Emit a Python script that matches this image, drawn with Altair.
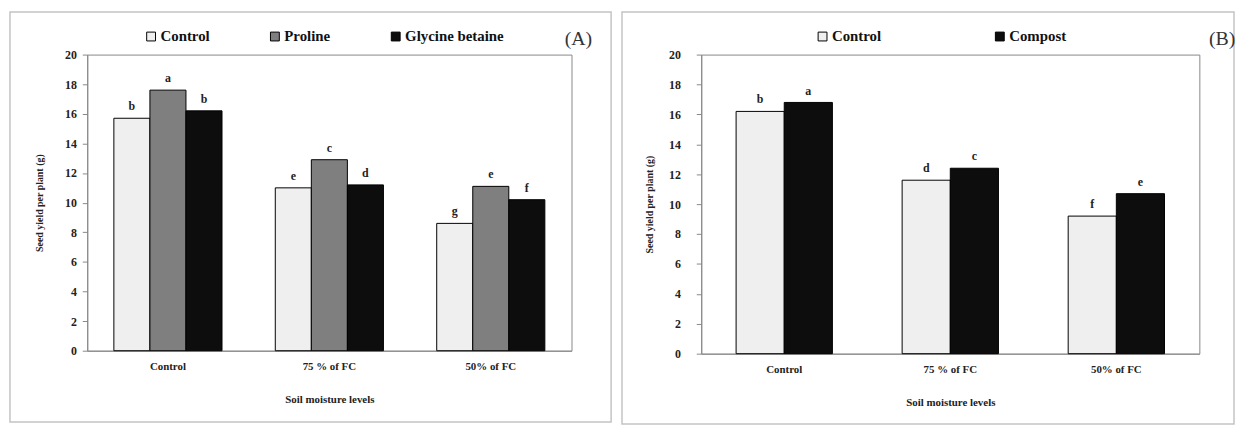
import altair as alt
import pandas as pd

SERIF = "Liberation Serif, Times New Roman, serif"

levels = ["Control", "75 % of FC", "50% of FC"]
y_ticks = list(range(0, 21, 2))

# Panel A
a_treatments = ["Control", "Proline", "Glycine betaine"]
a_colors = ["#efefef", "#7f7f7f", "#0d0d0d"]
a_control = [15.7, 11.0, 8.6]
a_proline = [17.6, 12.9, 11.1]
a_glycine = [16.2, 11.2, 10.2]
a_let_control = ["b", "e", "g"]
a_let_proline = ["a", "c", "e"]
a_let_glycine = ["b", "d", "f"]

# Panel B
b_treatments = ["Control", "Compost"]
b_colors = ["#efefef", "#0d0d0d"]
b_control = [16.2, 11.6, 9.2]
b_compost = [16.8, 12.4, 10.7]
b_let_control = ["b", "d", "f"]
b_let_compost = ["a", "c", "e"]


def make_df(treatments, values, letters):
    rows = []
    for t, vals, lets in zip(treatments, values, letters):
        for lv, v, l in zip(levels, vals, lets):
            rows.append({"level": lv, "treatment": t, "value": v, "letter": l})
    return pd.DataFrame(rows)


df_a = make_df(a_treatments, [a_control, a_proline, a_glycine],
               [a_let_control, a_let_proline, a_let_glycine])
df_b = make_df(b_treatments, [b_control, b_compost],
               [b_let_control, b_let_compost])


def panel(df, treatments, colors, w, h, pad_inner, legend_x, legend_y, col_pad,
          tag, tag_x, tag_y, frame, ylab_pad, ytitle_pad):
    x = alt.X("level:N", sort=levels,
              scale=alt.Scale(paddingInner=pad_inner, paddingOuter=pad_inner / 2),
              axis=alt.Axis(title="Soil moisture levels", labelAngle=0, ticks=False,
                            domainColor="#888888", labelFont=SERIF, labelFontSize=11,
                            labelFontWeight="bold", labelColor="#222", labelPadding=10,
                            titleFont=SERIF, titleFontSize=11, titleFontWeight="bold",
                            titleColor="#222", titlePadding=22))
    xo = alt.XOffset("treatment:N", sort=treatments,
                     scale=alt.Scale(paddingInner=0, paddingOuter=0))
    y = alt.Y("value:Q", scale=alt.Scale(domain=[0, 20], nice=False),
              axis=alt.Axis(values=y_ticks, title="Seed yield per plant (g)", grid=False,
                            domainColor="#888888", tickColor="#888888", tickSize=5,
                            labelFont=SERIF, labelFontSize=12, labelFontWeight="bold",
                            labelColor="#222", labelPadding=ylab_pad,
                            titleFont=SERIF, titleFontSize=10, titleFontWeight="bold",
                            titleColor="#222", titlePadding=ytitle_pad))
    fill = alt.Fill("treatment:N", sort=treatments,
                    scale=alt.Scale(domain=treatments, range=colors),
                    legend=alt.Legend(title=None, orient="none", legendX=legend_x,
                                      legendY=legend_y, direction="horizontal",
                                      columns=len(treatments), columnPadding=col_pad,
                                      symbolType="square", symbolSize=80,
                                      symbolStrokeColor="black", symbolStrokeWidth=1,
                                      labelFont=SERIF, labelFontSize=15,
                                      labelFontWeight="bold", labelColor="#111",
                                      labelOffset=2))
    base = alt.Chart(df)
    bars = base.mark_bar(stroke="black", strokeWidth=1).encode(
        x=x, xOffset=xo, y=y, fill=fill)
    text = base.mark_text(dy=-12, font=SERIF, fontWeight="bold", fontSize=12,
                          color="#222").encode(x=x, xOffset=xo, y=y, text="letter:N")
    one = alt.Chart(pd.DataFrame({"k": [tag]}))
    tag_mark = one.mark_text(font=SERIF, fontSize=20, color="#333").encode(
        x=alt.value(tag_x), y=alt.value(tag_y), text="k:N")
    fr = one.mark_rect(fillOpacity=0, stroke="#c4c4c4", strokeWidth=1.5).encode(
        x=alt.value(frame[0]), x2=alt.value(w + frame[1]),
        y=alt.value(frame[2]), y2=alt.value(h + frame[3]))
    return alt.layer(fr, bars, text, tag_mark).properties(width=w, height=h)


left = panel(df_a, a_treatments, a_colors, 489, 299, 0.33, 57, -26, 58,
             "(A)", 496, -16, (-78, 40, -43, 72), 6, 20)
right = panel(df_b, b_treatments, b_colors, 503, 302, 0.42, 115, -26, 112,
              "(B)", 526, -16, (-80, 35, -43, 71), 16, 14)

chart = (alt.hconcat(left, right, spacing=7)
         .resolve_scale(fill="independent", xOffset="independent")
         .resolve_legend(fill="independent")
         .properties(padding=0)
         .configure_view(stroke="#888888", strokeWidth=1))

chart.save("out.html", embed_options={"renderer": "svg", "actions": False})
